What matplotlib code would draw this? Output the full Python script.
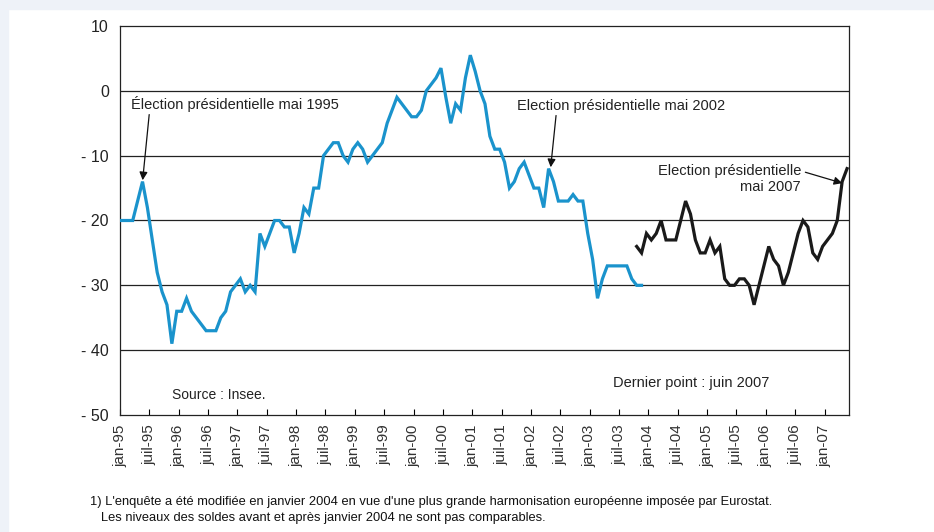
# Indicateur de confiance des ménages - soldes d'opinion, jan-95 à juin 2007

import numpy as np
import matplotlib.pyplot as plt
from matplotlib.patches import Rectangle

plt.rcParams['font.family'] = ['Liberation Sans', 'DejaVu Sans']

# Données (mensuelles, indice 0 = janvier 1995)
tick_labels = []
for yy in ['95', '96', '97', '98', '99', '00', '01', '02', '03', '04', '05', '06', '07']:
    tick_labels += ['jan-' + yy, 'juil-' + yy]
tick_labels = tick_labels[:-1]  # dernier : jan-07

blue_start = 0
blue_values = [-20, -20, -20, -20, -17, -14, -18, -23, -28, -31,
               -33, -39, -34, -34, -32, -34, -35, -36, -37, -37,
               -37, -35, -34, -31, -30, -29, -31, -30, -31, -22,
               -24, -22, -20, -20, -21, -21, -25, -22, -18, -19,
               -15, -15, -10, -9, -8, -8, -10, -11, -9, -8,
               -9, -11, -10, -9, -8, -5, -3, -1, -2, -3,
               -4, -4, -3, 0, 1, 2, 3.5, -1, -5, -2,
               -3, 2, 5.5, 3, 0, -2, -7, -9, -9, -11,
               -15, -14, -12, -11, -13, -15, -15, -18, -12, -14,
               -17, -17, -17, -16, -17, -17, -22, -26, -32, -29,
               -27, -27, -27, -27, -27, -29, -30, -30]

black_start = 106
black_values = [-24, -25, -22, -23, -22, -20, -23, -23, -23, -20,
                -17, -19, -23, -25, -25, -23, -25, -24, -29, -30,
                -30, -29, -29, -30, -33, -30, -27, -24, -26, -27,
                -30, -28, -25, -22, -20, -21, -25, -26, -24, -23,
                -22, -20, -14, -12]

y_ticks = [10, 0, -10, -20, -30, -40, -50]
y_labels = ['10', '0', '- 10', '- 20', '- 30', '- 40', '- 50']

# points placés un peu avant la graduation du mois
offset = -0.4
bx = np.arange(blue_start, blue_start + len(blue_values)) + offset
kx = np.arange(black_start, black_start + len(black_values)) + offset

fig = plt.figure(figsize=(9.34, 5.32), dpi=100)
fig.patch.set_facecolor('white')
# bandeau clair en haut et à gauche
fig.add_artist(Rectangle((0, 1 - 9 / 532), 1, 9 / 532, transform=fig.transFigure,
                         color='#eef2f8', zorder=0))
fig.add_artist(Rectangle((0, 0), 8 / 934, 1, transform=fig.transFigure,
                         color='#eef2f8', zorder=0))

ax = fig.add_axes([120 / 934, 1 - 415 / 532, 729 / 934, 389 / 532])

for g in [0, -10, -20, -30, -40]:
    ax.axhline(g, color='#222222', lw=0.9, zorder=1)

ax.plot(bx, blue_values, color='#1a93cc', lw=2.3, solid_joinstyle='miter', zorder=3)
ax.plot(kx, black_values, color='#1a1a1a', lw=2.3, solid_joinstyle='miter', zorder=3)

ax.set_xlim(0, 149)
ax.set_ylim(-50, 10)
ax.set_xticks(np.arange(len(tick_labels)) * 6)
ax.set_xticklabels(tick_labels, rotation=90, fontsize=11, color='#333333')
ax.set_yticks(y_ticks)
ax.set_yticklabels(y_labels, fontsize=11.5, color='#222222')
ax.tick_params(axis='x', direction='in', length=4, width=0.8, pad=7)
ax.tick_params(axis='y', length=0, pad=8)
for s in ax.spines.values():
    s.set_color('#222222')
    s.set_linewidth(0.9)

arrow = dict(arrowstyle='-|>', color='#111111', lw=0.9, mutation_scale=12,
             shrinkA=0, shrinkB=1)
ax.annotate('Élection présidentielle mai 1995', xy=(bx[5], blue_values[5]),
            xytext=(2.2, -2.0), ha='left', va='center', fontsize=10.5,
            color='#222222', arrowprops=dict(arrow, relpos=(0.09, 0)))
ax.annotate('Election présidentielle mai 2002', xy=(bx[88] + 0.4, blue_values[88]),
            xytext=(81.1, -2.3), ha='left', va='center', fontsize=10.5,
            color='#222222', arrowprops=dict(arrow, relpos=(0.19, 0)))
ax.annotate('Election présidentielle\nmai 2007', xy=(kx[-2] + 0.3, black_values[-2] - 0.3),
            xytext=(139.2, -13.6), ha='right', va='center', fontsize=10.5,
            color='#222222', multialignment='right', linespacing=1.25,
            arrowprops=dict(arrow, relpos=(1.03, 0.72)))

ax.text(10.6, -46.9, 'Source : Insee.', fontsize=10, color='#222222',
        ha='left', va='center')
ax.text(100.7, -45.0, 'Dernier point : juin 2007', fontsize=10.5, color='#222222',
        ha='left', va='center')

fig.text(90 / 934, 1 - 502 / 532,
         "1) L'enquête a été modifiée en janvier 2004 en vue d'une plus grande "
         "harmonisation européenne imposée par Eurostat.",
         fontsize=9.3, color='#111111', ha='left', va='center')
fig.text(101 / 934, 1 - 518 / 532,
         "Les niveaux des soldes avant et après janvier 2004 ne sont pas comparables.",
         fontsize=9.3, color='#111111', ha='left', va='center')

fig.savefig('out.png', dpi=100)
